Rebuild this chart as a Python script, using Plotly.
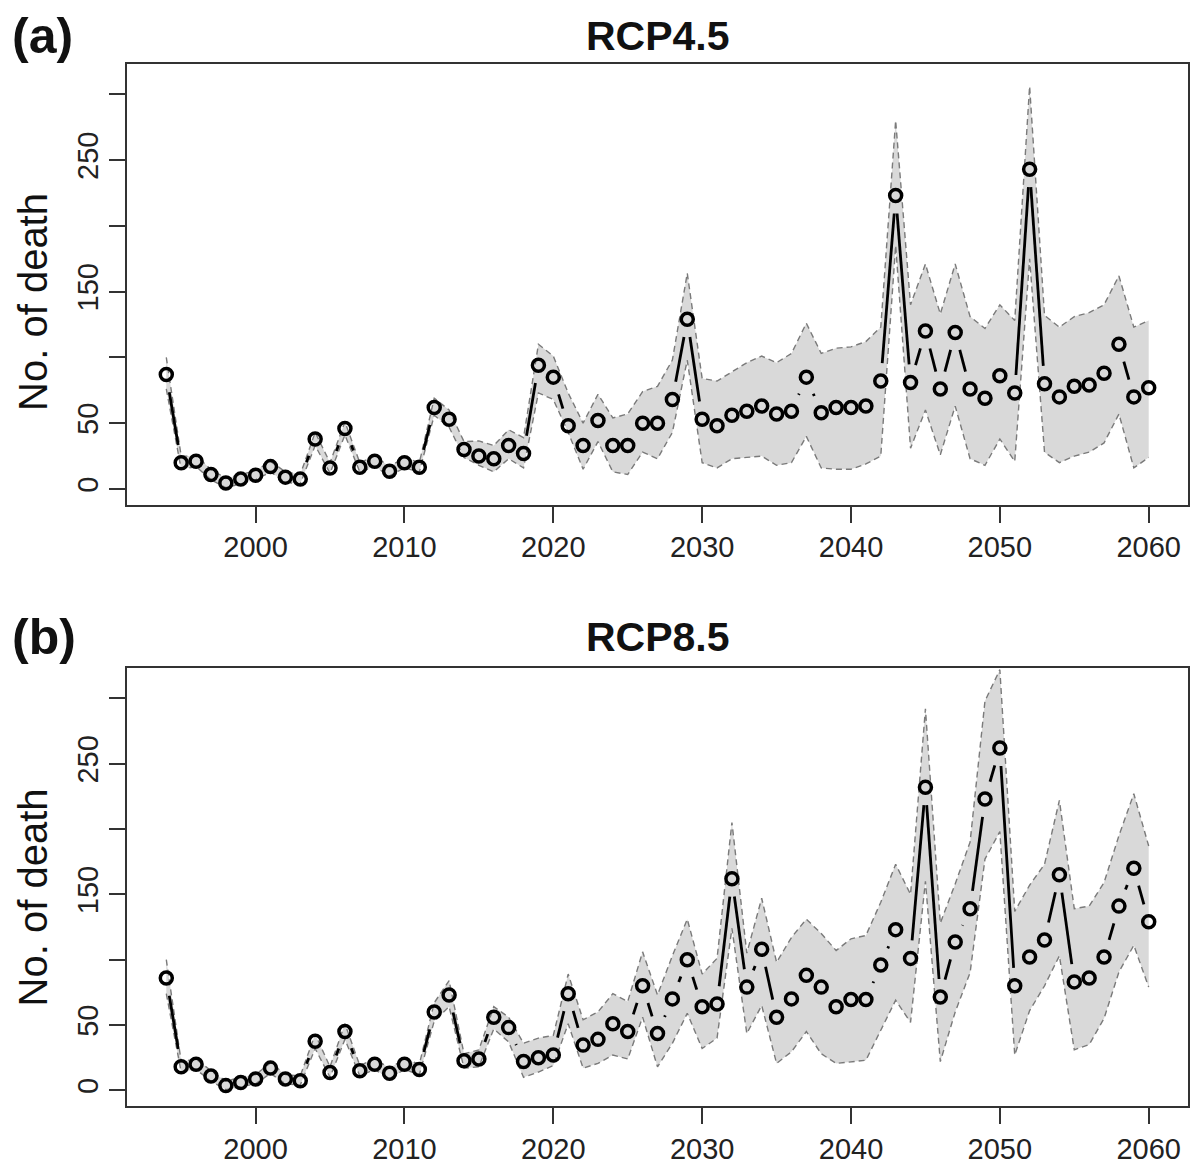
import math
import plotly.graph_objects as go

years = list(range(1994, 2061))

# ---- Panel (a) RCP4.5 ----
a_mid = [87, 20, 21, 11, 4.5, 7.5, 10.5, 17, 9, 7.5,
         38, 16, 46, 16.5, 21, 13.5, 20, 16.5, 62, 53,
         30, 25, 23, 33, 27, 94, 85, 48, 33, 52,
         33, 33, 50, 50, 68, 129, 53, 48, 56, 59,
         63, 57, 59, 85, 58, 62, 62, 63, 82, 223,
         81, 120, 76, 119, 76, 69, 86, 73, 243, 80,
         70, 78, 79, 88, 110, 70, 77]
a_upper = [100, 25, 25, 15, 8, 11, 14, 21, 13, 11,
           43, 20, 51, 20, 25, 17, 24, 20, 69, 60,
           36, 36.5, 33, 45, 39, 110, 101, 73, 50, 72,
           54, 57, 74, 78, 98, 164, 84, 82, 89, 96,
           101, 96, 103, 126, 103, 107, 108, 112, 123, 280,
           140, 171, 133, 171, 131, 122, 140, 128, 306, 132,
           123, 131, 134, 140, 162, 123, 128]
a_lower = [76, 15, 17, 7, 1, 4, 7, 13, 5, 4,
           33, 12, 41, 13, 17, 10, 16, 13, 56, 47,
           24, 18, 13, 23, 16, 73, 68, 43, 15, 36,
           13, 11, 28, 23, 43, 98, 20, 16, 23, 24,
           25, 18, 20, 40, 16, 15, 15, 19, 25, 185,
           31, 60, 26, 63, 23, 18, 38, 21, 175, 28,
           20, 25, 28, 35, 57, 16, 24]

# ---- Panel (b) RCP8.5 ----
b_mid = [86, 18, 20, 11, 3.6, 6, 8.6, 17, 8.6, 7.4,
         37.6, 13.7, 45, 15, 20, 13, 20, 16, 60, 73,
         22.6, 24, 56, 48, 22, 25, 27, 74, 34.6, 39,
         51, 45, 80, 43.5, 70, 100, 64, 66, 162, 79,
         108, 56, 70, 88, 79, 64, 69.5, 69.5, 96, 123,
         101, 232, 71.5, 113.5, 139, 223, 262, 80, 102, 115,
         165, 83, 86, 102, 141, 170, 129]
b_upper = [100, 22, 24, 15, 7, 10, 12, 21, 12, 11,
           43, 18, 51, 19, 24, 17, 24, 20, 67, 84,
           28, 31, 64, 56, 36, 40, 42, 89, 54, 60,
           74, 68, 106, 73, 103, 131, 89, 101, 205, 105,
           147, 98, 117, 131, 120, 107, 116, 118.5, 144, 173,
           150, 292, 128, 158, 190, 298, 322, 137, 157, 173,
           222, 139, 141, 159, 195, 227, 187]
b_lower = [74, 14, 16, 7, 0.5, 3, 5, 13, 5, 4,
           32, 10, 39, 11, 16, 9, 16, 12, 53, 64,
           17, 18, 47, 37, 10, 14, 19, 51, 17, 20.6,
           27, 24, 56, 18, 36, 59, 32, 40, 124, 43.5,
           65, 20.6, 29.5, 45, 28, 20.6, 22, 23, 46, 69,
           52, 160, 22, 60, 90, 177, 198, 27, 61, 80,
           103, 31, 35, 55, 90.6, 111, 79]

x_ticks = [2000, 2010, 2020, 2030, 2040, 2050, 2060]
y_ticks = [0, 50, 100, 150, 200, 250, 300]
y_ticktext = ["0", "50", "", "150", "", "250", ""]

W, H = 1193, 1168
ML, MR, MT, MB = 127, 3, 64, 61
XR = [1991.36, 2062.64]
YR = [-12, 323]
DOM_A = [0.577, 1.0]
DOM_B = [0.0, 0.42]
plot_w = W - ML - MR
plot_h = H - MT - MB

FONT = "Liberation Sans, Arial, sans-serif"
BAND_FILL = "#d9d9d9"
BAND_LINE = "#7a7a7a"


def gapped(xs, ys, kx, ky, gap=18.0):
    """Segments between consecutive points, shortened (like R type='b')."""
    ox, oy = [], []
    for i in range(len(xs) - 1):
        dx = (xs[i + 1] - xs[i]) * kx
        dy = (ys[i + 1] - ys[i]) * ky
        L = math.hypot(dx, dy)
        if L <= 2 * gap:
            continue
        f = gap / L
        ox += [xs[i] + (xs[i + 1] - xs[i]) * f, xs[i + 1] - (xs[i + 1] - xs[i]) * f, None]
        oy += [ys[i] + (ys[i + 1] - ys[i]) * f, ys[i + 1] - (ys[i + 1] - ys[i]) * f, None]
    return ox, oy


fig = go.Figure()


def add_panel(mid, up, lo, xa, ya, dom):
    kx = plot_w / (XR[1] - XR[0])
    ky = plot_h * (dom[1] - dom[0]) / (YR[1] - YR[0])
    fig.add_trace(go.Scatter(x=years, y=lo, mode="lines", xaxis=xa, yaxis=ya,
                             line=dict(color=BAND_LINE, width=1.4, dash="6px,4px"),
                             showlegend=False, hoverinfo="skip"))
    fig.add_trace(go.Scatter(x=years, y=up, mode="lines", xaxis=xa, yaxis=ya,
                             fill="tonexty", fillcolor=BAND_FILL,
                             line=dict(color=BAND_LINE, width=1.4, dash="6px,4px"),
                             showlegend=False, hoverinfo="skip"))
    sx, sy = gapped(years, mid, kx, ky)
    fig.add_trace(go.Scatter(x=sx, y=sy, mode="lines", xaxis=xa, yaxis=ya,
                             line=dict(color="black", width=2.8),
                             showlegend=False, hoverinfo="skip"))
    fig.add_trace(go.Scatter(x=years, y=mid, mode="markers", xaxis=xa, yaxis=ya,
                             marker=dict(symbol="circle-open", size=12, color="black",
                                         line=dict(width=3.5, color="black")),
                             showlegend=False))


add_panel(a_mid, a_upper, a_lower, "x", "y", DOM_A)
add_panel(b_mid, b_upper, b_lower, "x2", "y2", DOM_B)

axis_common = dict(showgrid=False, zeroline=False, showline=True, mirror=True,
                   linecolor="#333333", linewidth=1.5, ticks="outside", ticklen=16,
                   tickwidth=1.5, tickcolor="#333333",
                   tickfont=dict(family=FONT, size=29, color="#222222"))

fig.update_layout(
    width=W, height=H,
    margin=dict(l=ML, r=MR, t=MT, b=MB),
    paper_bgcolor="white", plot_bgcolor="white",
    xaxis=dict(domain=[0, 1], range=XR, anchor="y", tickvals=x_ticks, **axis_common),
    yaxis=dict(domain=DOM_A, range=YR, anchor="x", tickvals=y_ticks, ticktext=y_ticktext,
               tickangle=-90, **axis_common),
    xaxis2=dict(domain=[0, 1], range=XR, anchor="y2", tickvals=x_ticks, **axis_common),
    yaxis2=dict(domain=DOM_B, range=YR, anchor="x2", tickvals=y_ticks, ticktext=y_ticktext,
                tickangle=-90, **axis_common),
)


def px_x(px):
    return (px - ML) / plot_w


def px_y(py):
    return (H - MB - py) / plot_h


ann = []
for label, title, yc, ytitle in [("(a)", "RCP4.5", 36, 302), ("(b)", "RCP8.5", 638, 898)]:
    ann.append(dict(text="<b>" + label + "</b>", x=px_x(10), y=px_y(yc), xref="paper", yref="paper",
                    xanchor="left", yanchor="middle", showarrow=False,
                    font=dict(family=FONT, size=50, color="#111111")))
    ann.append(dict(text="<b>" + title + "</b>", x=px_x(659), y=px_y(yc), xref="paper", yref="paper",
                    xanchor="center", yanchor="middle", showarrow=False,
                    font=dict(family=FONT, size=41, color="#111111")))
    ann.append(dict(text="No. of death", x=px_x(33), y=px_y(ytitle), xref="paper", yref="paper",
                    xanchor="center", yanchor="middle", showarrow=False, textangle=-90,
                    font=dict(family=FONT, size=40, color="#111111")))
fig.update_layout(annotations=ann)

fig.write_html("out.html")
